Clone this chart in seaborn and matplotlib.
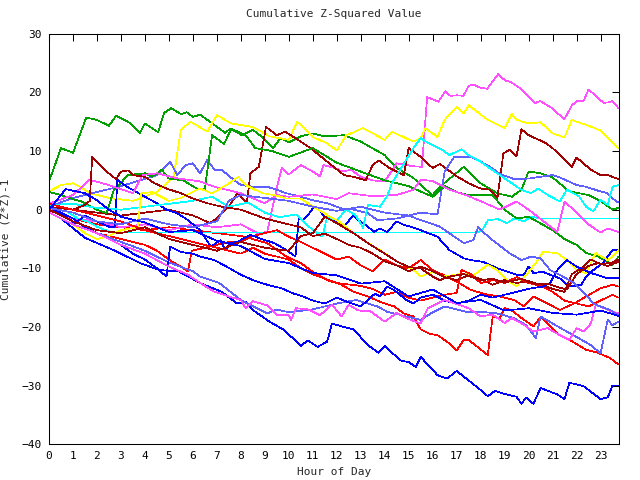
import pandas as pd
import matplotlib
matplotlib.use("Agg")
import matplotlib.pyplot as plt
import seaborn as sns

# hour / cumulative value pairs, one pair of lists per trace
r1_h = [0, 1, 2, 3, 4, 5, 6, 7, 8, 8.4, 9.1, 9.9, 10.5, 11, 11.6, 12.2, 12.7, 13.3, 13.8, 14.4, 14.8, 15.2, 15.5, 15.9, 16.2, 16.6, 17, 17.3, 17.5, 18.3, 18.5, 18.8, 19, 19.3, 19.65, 20.2, 20.5, 21.3, 21.8, 22.4, 22.9, 23.4, 23.75]
r1_v = [0, -1.5, -2.5, -3, -3.5, -3, -3.5, -4, -4.5, -4.9, -5.7, -8, -9.1, -10.6, -12, -12.8, -14, -14.8, -15.7, -16.5, -17.7, -18.2, -20.4, -21.2, -21.4, -22.5, -24, -22.2, -22.2, -24.8, -18.3, -18.5, -16.8, -17.2, -18.3, -19.9, -18.3, -21.4, -22.4, -23.9, -24.4, -25.3, -26.4]

g1_h = [0, 0.5, 1, 1.55, 2, 2.5, 2.8, 3.3, 3.8, 4, 4.55, 4.8, 5.1, 5.5, 5.75, 6, 6.3, 7.35, 7.55, 8.05, 8.5, 8.95, 9.35, 9.65, 10, 10.5, 11, 11.5, 12.3, 13, 14, 14.5, 15.2, 15.6, 16, 16.3, 17.3, 18, 18.7, 19.3, 19.7, 20, 20.5, 21, 21.7, 22.5, 23, 23.5, 23.75]
g1_v = [4.8, 10.5, 9.7, 15.7, 15.3, 14.3, 16, 15, 13.1, 14.7, 13.2, 16.5, 17.3, 16.3, 16.6, 15.8, 16.2, 13.1, 13.8, 12.7, 13.6, 12.2, 10.5, 12.2, 11.5, 12.5, 13, 12.5, 12.7, 11.6, 9.3, 7.1, 5.4, 3.8, 2.5, 3.9, 7.3, 4.5, 2.8, 2.2, 3.4, 6.5, 6.2, 5.5, 3.1, 2.5, 1.5, 0, 0.3]

b1_h = [0, 0.5, 1.5, 2.7, 3.8, 4.6, 5.4, 6.3, 7.2, 7.85, 8.2, 8.5, 9.2, 9.8, 10.5, 10.8, 11.2, 11.6, 11.8, 12.2, 12.7, 13.3, 13.75, 14, 14.65, 15, 15.3, 15.5, 16.2, 16.6, 17, 17.9, 18.3, 18.6, 19, 19.5, 19.7, 19.9, 20.2, 20.5, 21.2, 21.5, 21.7, 22.3, 23, 23.3, 23.5, 23.75]
b1_v = [-0.5, -1.5, -4.8, -6.9, -9.1, -10.3, -10.5, -12.5, -14, -16, -15.7, -17.1, -19.1, -20.5, -23.2, -22.3, -23.4, -22.5, -19.4, -19.9, -20.4, -23.1, -24.4, -23.2, -25.7, -26, -26.8, -25.1, -28.2, -28.8, -27.5, -30.4, -31.8, -30.9, -31.4, -31.9, -33.1, -32, -33.1, -30.4, -31.5, -32.3, -29.5, -30.1, -32.3, -32, -30, -30]

m1_h = [0, 1, 2, 3, 4, 5, 6, 7, 8, 8.7, 9.1, 9.45, 9.7, 10, 10.5, 11, 11.3, 11.45, 12, 12.2, 12.6, 13, 13.5, 14, 14.5, 15.2, 15.55, 15.77, 16.24, 16.53, 16.74, 17.02, 17.28, 17.5, 17.71, 17.99, 18.27, 18.73, 19.03, 19.24, 19.65, 20.28, 20.49, 20.98, 21.49, 21.81, 22.02, 22.29, 22.5, 23.13, 23.33, 23.5, 23.75]
m1_v = [0, -1.5, -2, -3, -2.5, -3.5, -2.5, -3, -2.5, -4, -3.8, 2.8, 7.1, 6, 7.6, 6.5, 5.7, 7.6, 7, 6.5, 6.8, 5.6, 5, 4.8, 7.9, 7.4, 7.3, 19.2, 18.4, 20.2, 19.4, 19.5, 19.4, 21.1, 21.3, 20.8, 20.6, 23.1, 22, 21.8, 20.7, 18.2, 18.5, 17.3, 15.4, 17.8, 18.5, 18.5, 20.5, 18.2, 18.3, 18.5, 17.3]

c1_h = [0, 0.5, 0.75, 1.2, 1.6, 2, 2.6, 17.9, 18.1, 18.3, 18.7, 19.1, 19.4, 19.8, 20.1, 20.5, 23.75]
c1_v = [0, 0.5, -0.3, -1.5, -2, -2.9, -3.9, -3.9, -3.3, -1.8, -1.6, -2.3, -1.5, -2, -1.2, -1.5, -1.5]

y1_h = [0, 0.5, 1, 1.3, 1.7, 2.5, 3.5, 4.5, 5.2, 5.5, 5.9, 6.6, 7, 7.6, 8.5, 9.2, 10, 10.35, 11, 11.6, 12, 12.4, 13.1, 14, 14.3, 15.2, 15.5, 15.7, 16.2, 16.5, 17, 17.3, 17.5, 18.3, 19, 19.3, 19.5, 20, 20.5, 21, 21.5, 21.8, 22.5, 23, 23.75]
y1_v = [3.1, 4.2, 4.5, 3.9, 2.8, 2, 1.5, 3, 5.6, 13.6, 15, 13.3, 16.1, 14.7, 14.1, 12.5, 11.9, 15, 12.4, 11.3, 10.1, 12.7, 13.9, 11.9, 13.3, 11.6, 12.2, 13.9, 12.4, 15.3, 17.5, 16.4, 17.8, 15.3, 13.9, 16.3, 15.3, 14.7, 14.9, 13, 12.3, 15.3, 14.3, 13.5, 10.5]

d1_h = [0, 1, 2, 3, 4, 5, 6, 6.3, 6.7, 7, 7.6, 7.85, 8.25, 8.4, 8.75, 9.05, 9.5, 9.85, 10.5, 10.9, 11.6, 12.3, 12.8, 13.2, 13.5, 13.75, 14.2, 14.8, 15, 15.2, 15.5, 16, 16.3, 17, 17.5, 18, 18.4, 18.7, 18.95, 19.2, 19.5, 19.7, 20, 20.7, 21, 21.8, 22, 22.6, 23, 23.3, 23.75]
d1_v = [0.5, 0, -0.5, -1, -0.5, 0, -1, -1.5, -2.3, -1.5, 1.1, 2.8, 1.1, 6.2, 7.3, 14.1, 12.7, 13.3, 11.6, 10.5, 8.2, 5.9, 5.5, 5, 7.6, 8.4, 7.1, 5.9, 10.5, 9.9, 9, 7.1, 7.8, 5.7, 4.5, 3.6, 3.4, 2, 9.6, 10.2, 9.1, 13.7, 12.7, 11.4, 10.5, 7.3, 8.9, 6.8, 5.9, 5.9, 5.2]

l1_h = [0, 1, 2, 3, 3.8, 4.5, 5.05, 5.35, 5.7, 6, 6.3, 6.6, 6.9, 7.2, 7.7, 8, 8.55, 9.1, 9.5, 9.9, 10.5, 11, 11.6, 12.2, 12.7, 13.3, 13.7, 14.5, 15.5, 16.2, 16.5, 16.9, 17.6, 18, 18.4, 18.8, 19.4, 20, 20.5, 21, 21.3, 22, 22.4, 23, 23.3, 23.5, 23.75]
l1_v = [0.5, 2, 3, 4, 5, 5.9, 8.2, 5.9, 7.6, 7.9, 6.2, 8.5, 6.8, 6.8, 5.1, 4.2, 3.9, 3.9, 3.4, 2.8, 2.2, 1.6, 1.1, 0.2, 0, -0.6, -1.8, -1.5, -0.5, -0.8, 6.5, 9, 9, 8.2, 7.3, 6.1, 5.2, 5.3, 5.6, 5.9, 5.5, 4.2, 3.9, 3.1, 2.8, 1.9, 1.2]

r2_h = [0, 1, 2, 3, 4, 4.5, 5, 5.8, 5.95, 6.5, 7, 7.5, 8, 8.5, 9, 9.5, 10, 10.5, 11, 11.5, 12, 12.5, 13, 13.5, 14, 14.5, 15, 15.5, 16, 16.6, 17.1, 17.6, 18.3, 18.8, 19.4, 19.8, 20.2, 20.8, 21.3, 21.9, 22.4, 23, 23.5, 23.75]
r2_v = [-0.5, -2.5, -4, -5, -6, -7, -8.5, -10.5, -7, -6.5, -6, -5.5, -5.5, -4.5, -4, -3.5, -4.6, -5.5, -6.5, -7.5, -8.5, -8, -9.5, -10.5, -8.5, -9.5, -10, -8.6, -10.3, -11.4, -12.5, -13.7, -14.5, -14.8, -15.4, -16.5, -14.8, -16, -17.1, -16, -14.8, -13.4, -12.8, -13.1]

g2_h = [0, 0.5, 1, 1.35, 2, 2.4, 2.7, 3.3, 4, 4.3, 4.7, 5, 5.6, 6.2, 6.5, 6.8, 7.3, 7.6, 8.2, 8.6, 9.3, 10, 11, 12, 13, 14, 15, 16, 16.5, 17, 17.5, 18.5, 19, 19.5, 20, 21, 21.5, 22, 22.4, 22.9, 23.5, 23.75]
g2_v = [3, 2.5, 1.8, 1.4, 0, -0.6, 3.3, 5.9, 6.2, 5.6, 6.8, 5.3, 5, 3.5, 3.5, 12.7, 11.2, 13.8, 12.7, 10.5, 10, 9, 10.5, 8, 6.5, 5, 4, 2.2, 4, 3, 2.5, 2.5, 0, -1.5, -1.2, -3.5, -5, -6, -7.4, -8, -9.4, -8]

b2_h = [0, 0.6, 1.1, 1.5, 2, 2.5, 2.75, 2.85, 3.25, 4, 4.5, 4.9, 5.35, 5.8, 6.3, 6.75, 7.15, 7.35, 7.55, 7.85, 8.4, 8.8, 9.4, 9.9, 10.28, 10.42, 10.55, 10.75, 11.05, 11.25, 11.5, 11.9, 12.3, 12.7, 12.9, 13.3, 13.55, 13.8, 14.1, 14.5, 14.8, 15.1, 15.5, 16.2, 16.7, 17.3, 17.6, 18.1, 18.7, 19.5, 19.8, 20, 20.2, 20.6, 20.9, 21.3, 21.7, 22.2, 22.4, 22.7, 23.1, 23.5, 23.75]
b2_v = [0, -1, -2.3, -1, -2, -2.9, -2.9, 5.1, 3.9, 2.2, 1.1, 0, -0.6, -1.8, -3.5, -6.3, -5.2, -6.9, -5.7, -5.5, -4.3, -4.9, -5.7, -6.9, -8, -1.2, -1.8, -1.2, 0.5, 0, -1.2, -2, -2.9, -0.9, -1.8, -2.9, -3.8, -3.2, -3.8, -2, -2.6, -2.9, -3.5, -4.6, -6.9, -8.3, -8.6, -8.9, -10, -11.1, -11.1, -9.7, -10.8, -10.6, -11.1, -11.7, -13.1, -12.8, -11.4, -10.3, -9.1, -6.9, -6.8]

m2_h = [0, 1, 1.7, 2.5, 3.5, 3.9, 4.5, 5.4, 6, 6.3, 6.9, 8, 9, 9.5, 10, 11, 12, 12.5, 13.5, 14.5, 15.2, 15.5, 16, 16.7, 17.5, 18.2, 18.8, 19.5, 20, 21.2, 21.5, 22, 22.5, 23, 23.3, 23.75]
m2_v = [1, 2.5, 5.1, 4.2, 2.8, 5.9, 6.2, 5.3, 5, 4.8, 3.9, 2.8, 1.1, 2.5, 2.2, 2.6, 1.8, 2.8, 2.3, 2.5, 3.4, 5.1, 4.9, 3.4, 2.3, 1.1, 0, 1.4, 0, -3.8, 1.4, -0.5, -2.5, -3.9, -3.2, -3.8]

c2_h = [0, 1, 2, 3, 4, 5, 6, 6.8, 7.5, 8.3, 9, 9.6, 10.3, 10.9, 11.4, 11.6, 12, 12.4, 12.8, 13.1, 13.3, 13.8, 14.1, 14.3, 14.9, 15.2, 15.5, 15.8, 16.4, 16.7, 17.2, 17.5, 18, 18.3, 18.8, 19.7, 20.1, 20.4, 20.8, 21.3, 21.6, 22.1, 22.4, 22.7, 23, 23.3, 23.5, 23.75]
c2_v = [0.8, 1, 0.3, 0, 0.5, 1, 1.5, 2.2, 0.5, 1.2, -0.5, -1.3, -0.8, -3.1, -4.6, -1.2, -1.8, 0, -1, -3.1, 0.8, 0.5, 2.3, 4.5, 8.5, 10.5, 12.2, 11.4, 10.2, 9.3, 10.3, 9.3, 8.2, 7.3, 5.9, 3.4, 2.8, 3.6, 2.5, 1.4, 3.4, 2.3, 0.5, -0.3, 1.7, 0.8, 3.9, 4.2]

y2_h = [0, 0.5, 1, 1.5, 2, 2.5, 3, 3.7, 3.85, 4.3, 5, 5.5, 6.3, 6.8, 7.4, 7.9, 8.2, 8.9, 9.4, 9.9, 10.5, 10.9, 11.6, 12.2, 12.7, 13.3, 13.8, 14.4, 14.8, 15.2, 15.5, 16, 16.5, 16.9, 17.3, 17.7, 18.3, 18.7, 19.1, 19.5, 19.9, 20.3, 20.6, 21.2, 21.6, 22, 22.4, 22.8, 23.3, 23.5, 23.75]
y2_v = [-0.5, -1.5, -2.5, -4, -5, -4.5, -3.5, -3, 2.8, 3, 1.5, 2, 3.6, 2.8, 4.2, 5.6, 4.2, 2.8, 2.5, 1.9, 1.9, 0.8, -0.9, -2.3, -4, -5.7, -6.9, -8.6, -9.4, -10.3, -11.4, -10.6, -11.4, -11.1, -10.9, -11.2, -9.4, -10.3, -12, -13.1, -11.1, -9.1, -7.2, -7.4, -8.6, -10.3, -10.8, -7.4, -8.6, -8, -6.9]

d2_h = [0, 0.5, 1, 1.5, 1.7, 1.8, 2.4, 2.8, 3, 3.3, 3.5, 4, 4.4, 4.9, 5.5, 6, 6.6, 7.2, 8, 9, 10, 10.5, 11, 11.5, 12, 12.5, 13, 13.5, 14, 14.5, 15, 15.5, 16, 16.5, 17, 17.5, 18, 18.5, 19, 19.5, 20, 20.5, 21, 21.5, 21.8, 22.2, 22.6, 23, 23.5, 23.75]
d2_v = [1, 0.5, 0, 0.8, 1.5, 9, 6.5, 5.2, 6.5, 6.7, 5.9, 5.6, 4.5, 3.6, 2.8, 1.9, 1.1, 0.5, 0, -1.5, -2.5, -3, -4.5, -4.1, -5, -6, -6.5, -7.5, -8.8, -9.5, -10.5, -9.7, -10.5, -11.5, -12, -11.2, -11.8, -12.8, -12, -12.5, -12.2, -12.8, -13.5, -14, -11, -10, -8.5, -9.3, -9, -8.5]

l2_h = [0, 1, 2, 3, 4, 5, 6, 6.3, 7.1, 8, 9.1, 9.5, 10, 11, 12, 12.8, 13.3, 13.7, 14.1, 14.7, 15.2, 15.5, 16, 16.5, 17, 17.5, 18, 18.7, 19.4, 19.9, 20.3, 20.5, 21, 21.6, 22, 22.6, 23, 23.3, 23.5, 23.75]
l2_v = [-0.5, -2.5, -4, -5.5, -7, -9, -10.5, -11.4, -12.5, -15.4, -17.7, -17, -17.5, -17, -16, -15.4, -16, -16.5, -17.4, -18, -18.5, -18.8, -17.5, -16.5, -17, -17.5, -17.4, -17.7, -18.5, -19.7, -21.9, -18.2, -19.4, -20.8, -21.7, -23.1, -24.5, -18.8, -19.7, -19.1]

r3_h = [0, 1, 2, 3, 4, 5, 6, 7, 8, 8.5, 9, 10, 10.5, 11, 12, 13, 13.5, 14, 14.5, 15, 15.5, 16, 16.5, 17, 17.2, 17.6, 18, 18.5, 19, 19.5, 20, 20.5, 21, 21.5, 22, 22.5, 23, 23.5, 23.75]
r3_v = [1, 0, -1, -2, -3.5, -4.5, -5.5, -6.5, -7.5, -6.5, -7.5, -8.5, -10, -11, -12.5, -13, -13.5, -14.5, -14, -15, -15.5, -15, -14.5, -14.2, -10.3, -11, -12.5, -12, -12.5, -11.5, -12.5, -13, -14, -15.5, -16, -16.5, -15.5, -14.5, -15]

b3_h = [0, 0.5, 1, 1.5, 2, 2.5, 3, 3.5, 4, 4.5, 4.9, 5.05, 5.5, 6, 6.3, 6.9, 7.4, 8, 8.5, 9.1, 9.7, 10.2, 10.6, 11, 11.5, 12, 12.5, 13, 13.3, 13.6, 13.8, 14.1, 14.4, 14.9, 15.2, 15.5, 16, 16.5, 17, 17.5, 18, 18.5, 19, 19.5, 20, 20.6, 20.9, 21.2, 21.6, 22, 22.6, 23.3, 23.75]
b3_v = [0.5, -0.5, -1.5, -3, -4, -5, -6, -7.5, -8.5, -10, -11.4, -6.3, -7.2, -7.5, -8, -8.6, -9.7, -11.1, -12, -12.8, -13.4, -14.3, -14.8, -15.5, -16, -15, -15.8, -16.5, -15.4, -14.3, -14.8, -13.1, -13.7, -15.4, -16, -15, -14.5, -15.5, -16, -15.5, -14.5, -15, -14.5, -14, -13.5, -13.1, -12.5, -10.3, -8.6, -9.7, -10.8, -11.7, -11.7]

m3_h = [0, 1, 2, 3, 4, 5, 5.8, 6.3, 6.9, 7.5, 8, 8.2, 8.5, 9.1, 9.5, 10, 10.1, 10.3, 10.8, 11.3, 11.8, 12.2, 12.5, 12.9, 13.4, 14, 14.5, 14.9, 15.5, 15.8, 16.5, 17.5, 18, 18.5, 19, 19.3, 19.8, 20.2, 20.8, 21.3, 21.7, 22, 22.3, 22.6, 22.8, 23.5, 23.75]
m3_v = [-0.5, -2.5, -4, -6, -7.5, -9.7, -11.1, -12.5, -14, -14.8, -15.4, -16.8, -15.6, -16.3, -18, -18, -18.8, -16.8, -17, -18, -16.2, -18.2, -16.2, -17.2, -17.3, -19.1, -17.6, -18.5, -19.4, -16.8, -15.4, -16.8, -18.2, -17.9, -19.3, -18.5, -19.6, -20.8, -20.2, -21.4, -22.2, -20.2, -20.8, -19.4, -16.2, -17.4, -17.7]

d3_h = [0, 1, 2, 3, 4, 5, 6, 7, 8, 9, 10, 10.5, 11, 11.5, 12, 12.7, 13.3, 14, 14.5, 15, 15.5, 16, 16.3, 16.7, 17.3, 18, 18.5, 19, 19.7, 20.3, 20.8, 21.2, 21.6, 22, 22.5, 22.9, 23.3, 23.75]
d3_v = [0, -2, -3.5, -4, -3, -5, -6, -7, -5.5, -6.5, -7, -4.5, -4, -1.2, -2.3, -4, -5.7, -7.5, -8.8, -9.8, -10, -11.4, -12, -11.4, -11, -12, -11.8, -12.4, -11.8, -12.7, -12.6, -13.2, -13.6, -11, -9.6, -9.1, -9.6, -8.9]

l3_h = [0, 1, 2, 3, 4, 5, 6, 7, 7.5, 8, 9, 10, 11, 12, 13, 14, 15, 15.5, 15.9, 16.3, 16.9, 17.3, 17.7, 17.9, 18.1, 18.5, 19.2, 19.7, 20.1, 20.5, 20.9, 21.3, 21.9, 22.4, 22.7, 23, 23.4, 23.75]
l3_v = [0.3, -0.5, -2, -2.5, -1.5, -2.5, -3, -2, 1.5, 2.5, 2, 1.5, 0.5, -0.2, 0.5, -0.5, -1, -1.8, -2.3, -2.9, -4.6, -5.7, -5.2, -2.9, -3.8, -5.2, -7.4, -8.6, -8, -8.3, -10.3, -11.1, -12.5, -14.5, -16, -16.5, -17.1, -18]

b4_h = [0, 0.7, 1.5, 2, 2.5, 3, 4, 5, 6, 7, 8, 9, 10, 11, 12, 13, 14, 15, 16, 17, 18, 19, 20, 21, 22, 23, 23.75]
b4_v = [0, 3.5, 2.8, 1.6, 0, -1.2, -2.2, -3.8, -3.5, -5.3, -6.2, -8.4, -9.1, -10.8, -11.2, -12.6, -12.2, -14.8, -13.6, -15.9, -15.4, -17.2, -16.8, -17.6, -17.9, -17.2, -18.1]

RED, GREEN, BLUE, MAGENTA = "#ff0000", "#00a000", "#0000ff", "#ff50ff"
CYAN, YELLOW, DARKRED, LIGHTBLUE = "#00ffff", "#ffff00", "#a00000", "#6060ff"

traces = [
    ("r1", RED, r1_h, r1_v), ("g1", GREEN, g1_h, g1_v), ("b1", BLUE, b1_h, b1_v),
    ("m1", MAGENTA, m1_h, m1_v), ("c1", CYAN, c1_h, c1_v), ("y1", YELLOW, y1_h, y1_v),
    ("d1", DARKRED, d1_h, d1_v), ("l1", LIGHTBLUE, l1_h, l1_v),
    ("r2", RED, r2_h, r2_v), ("g2", GREEN, g2_h, g2_v), ("b2", BLUE, b2_h, b2_v),
    ("m2", MAGENTA, m2_h, m2_v), ("c2", CYAN, c2_h, c2_v), ("y2", YELLOW, y2_h, y2_v),
    ("d2", DARKRED, d2_h, d2_v), ("l2", LIGHTBLUE, l2_h, l2_v),
    ("r3", RED, r3_h, r3_v), ("b3", BLUE, b3_h, b3_v), ("m3", MAGENTA, m3_h, m3_v),
    ("d3", DARKRED, d3_h, d3_v), ("l3", LIGHTBLUE, l3_h, l3_v), ("b4", BLUE, b4_h, b4_v),
]

rows = []
for name, color, hours, vals in traces:
    assert len(hours) == len(vals), name
    for h, v in zip(hours, vals):
        rows.append({"series": name, "hour": h, "value": v})
df = pd.DataFrame(rows)
palette = {name: color for name, color, _, _ in traces}

sns.set_style("white")
mono = ["DejaVu Sans Mono"]

fig = plt.figure(figsize=(6.4, 4.8), dpi=100)
ax = fig.add_axes([49 / 640, 1 - 444.3 / 480, (618.5 - 49) / 640, (444.3 - 33.7) / 480])

sns.lineplot(data=df, x="hour", y="value", hue="series", hue_order=[t[0] for t in traces],
             palette=palette, estimator=None, sort=False, legend=False,
             linewidth=0.5, antialiased=False, ax=ax)

ax.set_xlim(0, 23.75)
ax.set_ylim(-40, 30)
ax.set_xticks(range(0, 24))
ax.set_yticks(range(-40, 31, 10))
ax.tick_params(direction="in", length=5, width=0.75, top=True, right=True,
               labelsize=8, colors="black", pad=5)
for lab in ax.get_xticklabels() + ax.get_yticklabels():
    lab.set_family(mono)
for sp in ax.spines.values():
    sp.set_visible(True)
    sp.set_color("black")
    sp.set_linewidth(0.75)

ax.set_title("Cumulative Z-Squared Value", family=mono, fontsize=8, pad=12)
ax.set_xlabel("Hour of Day", family=mono, fontsize=8, labelpad=4)
ax.set_ylabel("Cumulative (Z*Z)-1", family=mono, fontsize=8, labelpad=8)

fig.savefig("out.png", dpi=100)
